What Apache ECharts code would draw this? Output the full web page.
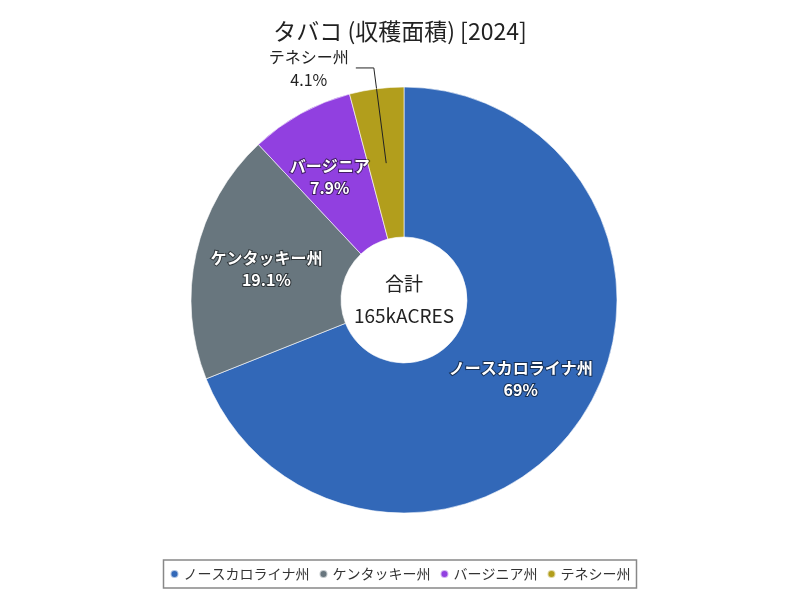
<!DOCTYPE html>
<html>
<head>
<meta charset="utf-8">
<script src="https://cdn.jsdelivr.net/npm/echarts@6/dist/echarts.min.js"></script>
<style>
html,body{margin:0;padding:0;background:#fff;}
#chart{width:800px;height:600px;}
</style>
</head>
<body>
<div id="chart"></div>
<script>
const categories = ['ノースカロライナ州', 'ケンタッキー州', 'バージニア州', 'テネシー州'];
const sliceLabels = ['ノースカロライナ州', 'ケンタッキー州', 'バージニア', 'テネシー州'];
const values = [114, 31.5, 13, 6.8]; // k acres
const colors = ['#3268b8', '#68767e', '#9140e0', '#b29e1c'];
const titleText = 'タバコ (収穫面積) [2024]';
const unit = 'kACRES';

const total = values.reduce((a, b) => a + b, 0);
function pct(v) {
  let s = (v / total * 100).toFixed(1);
  if (s.endsWith('.0')) s = s.slice(0, -2);
  return s + '%';
}

const FONT = '"Noto Sans CJK JP", "Noto Sans", sans-serif';
const CX = 404, CY = 300, R0 = 63, R1 = 213;

function midAngle(i) {
  let before = 0;
  for (let k = 0; k < i; k++) before += values[k];
  return (before + values[i] / 2) / total * Math.PI * 2; // clockwise from top
}
function polar(theta, r) {
  return [CX + r * Math.sin(theta), CY - r * Math.cos(theta)];
}

const data = categories.map((c, i) => {
  const item = {
    name: c,
    value: values[i],
    itemStyle: { color: colors[i] }
  };
  if (i === 3) {
    item.label = {
      position: 'outside',
      color: '#222',
      fontWeight: 'normal',
      textBorderWidth: 0,
      formatter: () => '{n|' + sliceLabels[i] + '}\n{n|' + pct(values[i]) + '}',
      rich: { n: { width: 84, align: 'center', fontSize: 16, lineHeight: 23, color: '#222', fontFamily: FONT } }
    };
    item.labelLine = { show: true, length: 21, length2: 18, lineStyle: { color: '#222', width: 1 } };
  }
  return item;
});

const tnTheta = midAngle(3);

const chart = echarts.init(document.getElementById('chart'), null, { renderer: 'canvas' });
chart.setOption({
  backgroundColor: '#fff',
  animation: false,
  title: {
    text: titleText,
    left: 'center',
    top: 15,
    textStyle: { fontSize: 23, fontWeight: 'normal', color: '#222', fontFamily: FONT }
  },
  legend: {
    bottom: 12,
    left: 'center',
    data: categories,
    icon: 'circle',
    itemWidth: 8,
    itemHeight: 8,
    itemGap: 9,
    padding: [7, 6],
    borderColor: '#888',
    borderWidth: 1.5,
    textStyle: { fontSize: 14, color: '#333', fontFamily: FONT }
  },
  graphic: [{
    type: 'text',
    x: CX,
    y: CY,
    style: {
      text: '合計\n' + Math.round(total) + unit,
      align: 'center',
      verticalAlign: 'middle',
      fontSize: 19,
      lineHeight: 32,
      fill: '#222',
      fontFamily: FONT
    }
  }, {
    type: 'polyline',
    z: 100,
    silent: true,
    shape: { points: [polar(tnTheta, (R0 + R1) / 2), polar(tnTheta, R1)] },
    style: { stroke: '#222', lineWidth: 1, fill: null }
  }],
  series: [{
    type: 'pie',
    center: [CX, CY],
    radius: [R0, R1],
    startAngle: 90,
    clockwise: true,
    avoidLabelOverlap: false,
    itemStyle: { borderColor: 'rgba(255,255,255,0.6)', borderWidth: 1 },
    label: {
      show: true,
      position: 'inside',
      color: '#fff',
      fontSize: 16,
      fontWeight: 'bold',
      lineHeight: 22,
      fontFamily: FONT,
      textBorderColor: 'rgba(0,0,0,0.55)',
      textBorderWidth: 2,
      formatter: (p) => sliceLabels[p.dataIndex] + '\n' + pct(values[p.dataIndex])
    },
    labelLine: { show: false },
    labelLayout: function (params) {
      if (params.dataIndex === 2) {
        return { dx: -6, dy: 0 };
      }
      return {};
    },
    data: data
  }]
});
</script>
</body>
</html>
